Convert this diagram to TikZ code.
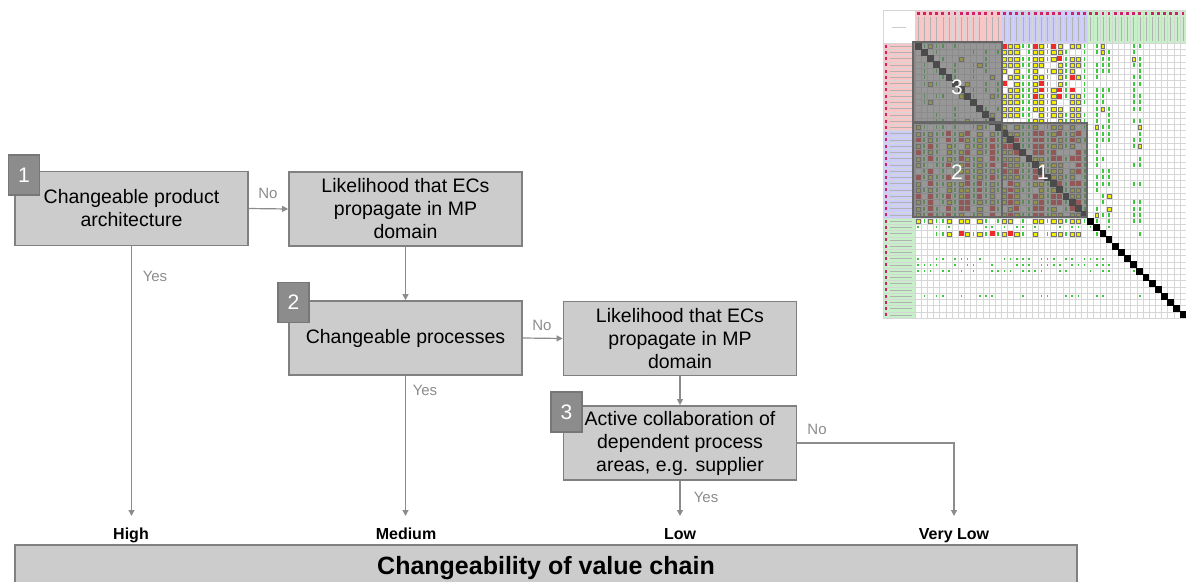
\documentclass[tikz,border=0pt]{standalone}
\usepackage{fontspec}
\setmainfont{Liberation Sans}
\usetikzlibrary{arrows.meta}
\definecolor{boxfill}{HTML}{CCCCCC}
\definecolor{boxline}{HTML}{808080}
\definecolor{tabfill}{HTML}{8C8C8C}
\definecolor{tabline}{HTML}{777777}
\definecolor{connc}{HTML}{8C8C8C}
\definecolor{lblc}{HTML}{8C8C8C}
\definecolor{redhdr}{HTML}{F8C6C6}
\definecolor{bluehdr}{HTML}{CCCCF8}
\definecolor{greenhdr}{HTML}{C8F0C8}
\definecolor{magent}{HTML}{D0206A}
\definecolor{gridc}{HTML}{D6D6D6}
\definecolor{mred}{HTML}{EE2A2A}
\definecolor{myel}{HTML}{F2EE00}
\definecolor{mgreen}{HTML}{3CC83C}
\definecolor{ovl}{HTML}{6C6C6C}
\definecolor{ovlline}{HTML}{666666}
\tikzset{
  decision/.style={draw=boxline, fill=boxfill, line width=1.8pt, minimum width=233pt, minimum height=74pt, align=center, font=\fontsize{19.5}{23}\selectfont, inner sep=0pt},
  numtab/.style={draw=tabline, fill=tabfill, line width=1.5pt, minimum width=31pt, minimum height=40pt, inner sep=0pt, text=white, font=\fontsize{21}{21}\selectfont},
  conn/.style={draw=connc, line width=1.2pt, -{Triangle[length=6pt,width=6pt]}},
  yn/.style={text=lblc, font=\fontsize{15}{15}\selectfont, inner sep=0pt},
  level/.style={font=\bfseries\fontsize{16}{16}\selectfont, inner sep=0pt, anchor=base},
  ovlbox/.style={fill=ovl, fill opacity=0.7, draw=ovlline, draw opacity=1, line width=2.4pt},
  ovlnum/.style={text=white, font=\fontsize{21}{21}\selectfont, inner sep=0pt},
  redsq/.style={fill=mred},
  yelsq/.style={fill=myel, draw=black!55, line width=0.3pt},
  grnbar/.style={fill=mgreen},
}
\begin{document}
\begin{tikzpicture}[x=1pt,y=-1pt]
\useasboundingbox (0,0) rectangle (1186,581);
\clip (0,0) rectangle (1186,581);

% ---------------- matrix (top right) ----------------
\fill[white] (883,10) rectangle (1186,318);
\fill[redhdr] (915,10) rectangle (1001.24,43);
\fill[bluehdr] (1001.24,10) rectangle (1087.48,43);
\fill[greenhdr] (1087.48,10) rectangle (1186,43);
\fill[redhdr] (883,43) rectangle (915,130.5);
\fill[bluehdr] (883,130.5) rectangle (915,218);
\fill[greenhdr] (883,218) rectangle (915,318);
% grid
\foreach \i in {0,...,44}{
  \draw[gridc, line width=0.4pt] (883,43+\i*6.25) -- (1186,43+\i*6.25);
}
\foreach \j in {0,...,44}{
  \draw[gridc, line width=0.4pt] (915+\j*6.16,10) -- (915+\j*6.16,318);
}
\draw[gridc, line width=0.6pt] (883,10) rectangle (1190,318);
\draw[gray!40, line width=0.5pt] (892,27) -- (906,27);
% label markers and illegible label strokes
\foreach \i in {0,...,43}{
  \fill[magent] (884.5,43+\i*6.25+1.7) rectangle ++(2.8,2.8);
  \draw[gray!60, line width=0.5pt] (889.5,43+\i*6.25+3.1) -- (912,43+\i*6.25+3.1);
}
\foreach \j in {0,...,44}{
  \fill[magent] (915+\j*6.16+1.7,12) rectangle ++(2.8,2.8);
  \draw[gray!60, line width=0.5pt] (915+\j*6.16+3.1,17) -- (915+\j*6.16+3.1,41);
}
% markers
\pgfmathsetseed{11}
\foreach \i in {0,...,27}{
  \foreach \j in {0,...,27}{
    \pgfmathsetmacro\r{rnd}
    \pgfmathsetmacro\s{rnd}
    \pgfmathtruncatemacro\ct{{1,0,1,0,0,1,0,1,1,0,1,0,1,0,1,1,1,0,0,1,1,0,1,1,0,1,1,0}[\j]}
    \pgfmathsetmacro\xo{915+\j*6.16}
    \pgfmathsetmacro\yo{43+\i*6.25}
    \ifnum\i=\j\relax\else
      \ifnum\i<14
        \ifnum\j<14
          % sparse block
          \ifnum\ct=0
            \ifdim\r pt<0.5pt \fill[grnbar] (\xo+2.4,\yo+1.2) rectangle (\xo+4,\yo+5.2); \fi
          \else
            \ifdim\r pt<0.15pt \filldraw[yelsq] (\xo+1,\yo+1.2) rectangle (\xo+5.2,\yo+5.2); \fi
          \fi
        \else
          \ifnum\ct=0
            \ifdim\r pt<0.85pt \fill[grnbar] (\xo+2.4,\yo+1.2) rectangle (\xo+4,\yo+5.2); \fi
          \else
            \ifdim\r pt<0.85pt
              \ifdim\s pt<0.12pt
                \fill[redsq] (\xo+0.6,\yo+0.8) rectangle (\xo+5.6,\yo+5.6);
              \else
                \filldraw[yelsq] (\xo+1,\yo+1.2) rectangle (\xo+5.2,\yo+5.2);
              \fi
            \fi
          \fi
        \fi
      \else
        \ifnum\ct=0
          \ifdim\r pt<0.8pt \fill[grnbar] (\xo+2.2,\yo+1.2) rectangle (\xo+4.2,\yo+5.2); \fi
        \else
          \ifdim\r pt<0.92pt
            \ifdim\s pt<0.45pt
              \fill[redsq] (\xo+0.6,\yo+0.8) rectangle (\xo+5.6,\yo+5.6);
            \else
              \filldraw[yelsq] (\xo+1,\yo+1.2) rectangle (\xo+5.2,\yo+5.2);
            \fi
          \fi
        \fi
      \fi
    \fi
  }
}
% green columns
\foreach \i in {0,...,30}{
  \foreach \j in {29,30,31,35,36}{
    \pgfmathsetmacro\r{rnd}
    \pgfmathsetmacro\xo{915+\j*6.16}
    \pgfmathsetmacro\yo{43+\i*6.25}
    \ifdim\r pt<0.12pt
      \filldraw[yelsq] (\xo+1.5,\yo+1.2) rectangle (\xo+4.7,\yo+5.2);
    \else\ifdim\r pt<0.7pt
      \fill[grnbar] (\xo+2.4,\yo+1.2) rectangle (\xo+4,\yo+5.2);
    \fi\fi
  }
}
% rows below the blocks
\foreach \i in {28,30}{
  \foreach \j in {0,...,27}{
    \pgfmathsetmacro\r{rnd}
    \pgfmathtruncatemacro\ct{{1,0,1,0,0,1,0,1,1,0,1,0,1,0,1,1,1,0,0,1,1,0,1,1,0,1,1,0}[\j]}
    \pgfmathsetmacro\xo{915+\j*6.16}
    \pgfmathsetmacro\yo{43+\i*6.25}
    \ifnum\ct=0
      \ifdim\r pt<0.8pt \fill[grnbar] (\xo+2.4,\yo+1.2) rectangle (\xo+4,\yo+5.2); \fi
    \else
      \ifdim\r pt<0.25pt
        \fill[redsq] (\xo+0.6,\yo+0.8) rectangle (\xo+5.6,\yo+5.6);
      \else\ifdim\r pt<0.85pt
        \filldraw[yelsq] (\xo+1,\yo+1.2) rectangle (\xo+5.2,\yo+5.2);
      \fi\fi
    \fi
  }
}
\foreach \i in {29,34,35,36,40}{
  \foreach \j in {0,...,31,35,36}{
    \pgfmathsetmacro\r{rnd}
    \pgfmathsetmacro\xo{915+\j*6.16}
    \pgfmathsetmacro\yo{43+\i*6.25}
    \ifdim\r pt<0.6pt
      \fill[grnbar] (\xo+2.4,\yo+2.2) rectangle (\xo+4,\yo+4.2);
    \fi
  }
}
% diagonal
\foreach \i in {0,...,43}{
  \fill[black] (915+\i*6.16-0.3,43+\i*6.25-0.3) rectangle ++(6.8,6.8);
}
% overlay blocks
\path[ovlbox] (913,42) rectangle (1002,122);
\path[ovlbox] (913,123) rectangle (1087,217);
\draw[ovlline, line width=2.4pt] (1002,123) -- (1002,217);
\node[ovlnum] (m3) at (957,87) {3};
\node[ovlnum] (m2) at (957,172) {2};
\node[ovlnum] (m1) at (1043,172) {1};

% ---------------- flow chart ----------------
\node[decision] (b1) at (131.5,208.5) {Changeable product\\architecture};
\node[decision] (b2) at (405.5,209) {Likelihood that ECs\\propagate in MP\\domain};
\node[decision] (b3) at (405.5,338) {Changeable processes};
\node[decision] (b4) at (680,338.5) {Likelihood that ECs\\propagate in MP\\domain};
\node[decision] (b5) at (680,443) {Active collaboration of\\dependent process\\areas, e.g. supplier};

\node[numtab] (t1) at (24,175) {1};
\node[numtab] (t2) at (293.5,302.5) {2};
\node[numtab] (t3) at (566.5,412) {3};

\node[level] (high) at (131,539) {High};
\node[level] (med) at (406,539) {Medium};
\node[level] (low) at (680,539) {Low};
\node[level] (vlow) at (954,539) {Very Low};

\coordinate (eHigh) at (131.5,516);
\coordinate (eMed) at (405.5,516);
\coordinate (eLow) at (680,516);
\coordinate (eVLow) at (954,516);

\draw[conn] (b1.east) -- (b2.west);
\draw[conn] (b1.south) -- (eHigh);
\draw[conn] (b2.south) -- (b3.north);
\draw[conn] (b3.east) -- (b4.west);
\draw[conn] (b3.south) -- (eMed);
\draw[conn] (b4.south) -- (b5.north);
\draw[conn] (b5.south) -- (eLow);
\draw[conn] (b5.east) -| (eVLow);

\node[yn] (n1) at (268,193) {No};
\node[yn] (y1) at (155,276) {Yes};
\node[yn] (n2) at (542,325) {No};
\node[yn] (y2) at (425,390) {Yes};
\node[yn] (n3) at (817,429) {No};
\node[yn] (y3) at (706,497) {Yes};

% bottom bar
\node[fill=boxfill, minimum width=1062pt, minimum height=40pt, inner sep=0pt, anchor=north] (bar) at (546,545) {};
\node[font=\bfseries\fontsize{25}{25}\selectfont, inner sep=0pt, anchor=base] (bartxt) at (546,574) {Changeability of value chain};
\draw[boxline, line width=1.8pt] (bar.south west) -- (bar.north west) -- (bar.north east) -- (bar.south east);
\end{tikzpicture}
\end{document}
